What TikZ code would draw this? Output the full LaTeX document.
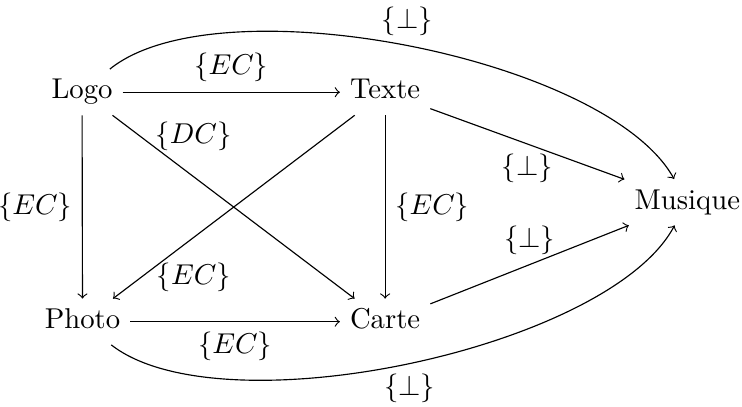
\documentclass[tikz,border=0pt]{standalone}
\usepackage{amssymb}
\usetikzlibrary{arrows,positioning}

\begin{document}
\begin{tikzpicture}[>=to,
  obj/.style={anchor=base, text height=1.6ex, text depth=0.5ex}]
 \useasboundingbox (0,0) rectangle (9.09,4.975);
 \node[obj] (logo) at (1.005,3.762) {Logo};
 \node[obj] (texte) at (4.718,3.762) {Texte};
 \node[obj] (photo) at (1.011,0.95) {Photo};
 \node[obj] (carte) at (4.718,0.95) {Carte};
 \node[obj] (musique) at (8.42,2.414) {Musique};
 % fleches droites
 \draw[->] (logo) -- node[above] {$\{EC\}$} (texte);
 \draw[->] (photo) -- node[below] {$\{EC\}$} (carte);
 \draw[->] (logo) -- node[left] {$\{EC\}$} (photo);
 \draw[->] (texte) -- node[right] {$\{EC\}$} (carte);
 \draw[->] (logo) -- node[pos=0.25, above, xshift=0.25cm] {$\{DC\}$} (carte);
 \draw[->] (texte) -- node[pos=0.75, below, xshift=0.25cm] {$\{EC\}$} (photo);
 \draw[->] (texte) -- node[below] {$\{\bot\}$} (musique);
 \draw[->] (carte) -- node[above] {$\{\bot\}$} (musique);
 % courbes
 \draw[->] (logo) to[bend left=50, looseness=0.62] node[above] {$\{\bot\}$} (musique);
 \draw[->] (photo) to[bend right=50, looseness=0.62] node[below] {$\{\bot\}$} (musique);
\end{tikzpicture}
\end{document}
